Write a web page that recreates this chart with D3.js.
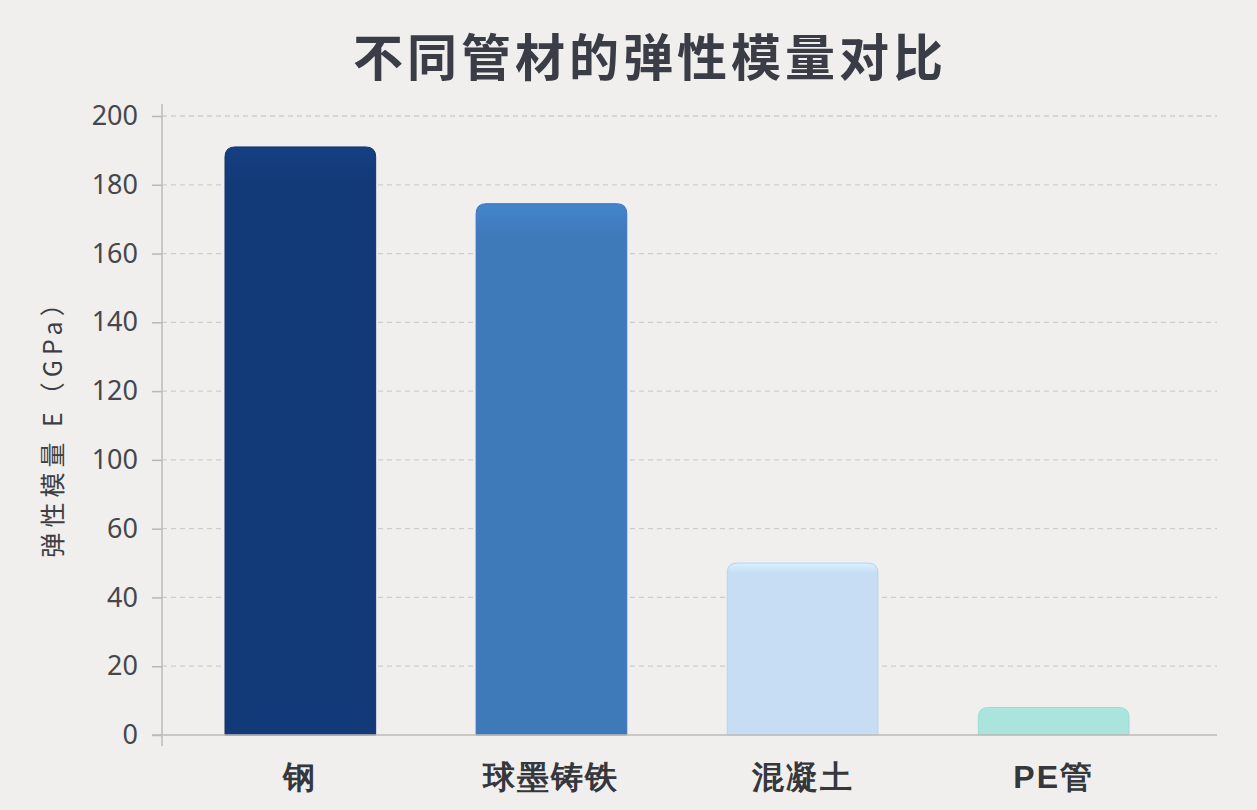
<!DOCTYPE html>
<html>
<head>
<meta charset="utf-8">
<script src="https://cdn.jsdelivr.net/npm/d3@7"></script>
<style>
  html, body { margin: 0; padding: 0; background: #f1efed; }
  svg { display: block; font-family: "Noto Sans CJK SC", "Noto Sans", sans-serif; }
</style>
</head>
<body>
<svg id="chart" width="1257" height="810"></svg>
<script>
// data
const categories = ['钢', '球墨铸铁', '混凝土', 'PE管'];
const modulus = [191, 174.5, 50, 8];
// tick labels as printed on the chart (evenly spaced, no 80)
const tickValues = [0, 20, 40, 60, 100, 120, 140, 160, 180, 200];
const barColors = ['#133a78', '#3e7aba', '#c6ddf4', '#aae4dc'];
const barEdges = ['#0f3268', '#3a74c8', '#b6d2f0', '#9adcd2'];

const svg = d3.select('#chart');
const margin = {top: 116, bottom: 75, left: 162, right: 40};
const yBottom = 810 - margin.bottom;

// x: band scale for the materials
const x = d3.scaleBand()
  .domain(categories)
  .range([225, 1129])
  .paddingInner(0.4)
  .paddingOuter(0);

// y: piecewise linear scale so the printed labels sit evenly
const step = (yBottom - margin.top) / (tickValues.length - 1);
const y = d3.scaleLinear()
  .domain(tickValues)
  .range(tickValues.map((_, i) => yBottom - i * step));

// title
svg.append('text')
  .attr('x', 650)
  .attr('y', 76)
  .attr('text-anchor', 'middle')
  .attr('font-size', 50)
  .attr('font-weight', 'bold')
  .attr('letter-spacing', 4)
  .attr('fill', '#3a3d45')
  .text('不同管材的弹性模量对比');

// gridlines
svg.append('g')
  .selectAll('line')
  .data(tickValues.filter(v => v > 0))
  .join('line')
  .attr('x1', margin.left)
  .attr('x2', 1217)
  .attr('y1', d => y(d))
  .attr('y2', d => y(d))
  .attr('stroke', '#cfcdcb')
  .attr('stroke-width', 1.3)
  .attr('stroke-dasharray', '5,4');

// gradients for bars
const defs = svg.append('defs');
barColors.forEach((c, i) => {
  const g = defs.append('linearGradient')
    .attr('id', 'grad' + i)
    .attr('x1', 0).attr('y1', 0).attr('x2', 0).attr('y2', 1);
  g.append('stop').attr('offset', '0%').attr('stop-color', d3.color(c).brighter(0.25));
  g.append('stop').attr('offset', '6%').attr('stop-color', c);
  g.append('stop').attr('offset', '100%').attr('stop-color', c);
});

// bars: rounded top corners, square bottom
const r = 10;
function barPath(d, i) {
  const x0 = x(categories[i]);
  const w = x.bandwidth();
  const top = y(d);
  const h = yBottom - top;
  const rr = Math.min(r, h / 2);
  return `M${x0},${yBottom} V${top + rr} Q${x0},${top} ${x0 + rr},${top} H${x0 + w - rr} Q${x0 + w},${top} ${x0 + w},${top + rr} V${yBottom} Z`;
}

svg.append('g')
  .selectAll('path')
  .data(modulus)
  .join('path')
  .attr('d', (d, i) => barPath(d, i))
  .attr('fill', (d, i) => `url(#grad${i})`)
  .attr('stroke', (d, i) => barEdges[i])
  .attr('stroke-width', 1);

// y axis
const yAxis = svg.append('g')
  .attr('transform', `translate(${margin.left},0)`)
  .call(d3.axisLeft(y).tickValues(tickValues).tickSize(10).tickPadding(14).tickFormat(d3.format('d')));
yAxis.select('.domain').remove();
yAxis.selectAll('.tick line').attr('stroke', '#b9b7b5').attr('stroke-width', 1.5);
yAxis.selectAll('.tick text')
  .attr('font-size', 27)
  .attr('fill', '#45474c')
  .attr('font-family', '"Noto Sans", "DejaVu Sans", sans-serif');
yAxis.append('line')
  .attr('x1', 0).attr('x2', 0)
  .attr('y1', 104).attr('y2', 746)
  .attr('stroke', '#bdbbb9').attr('stroke-width', 1.5);

// x axis
const xAxis = svg.append('g')
  .attr('transform', `translate(0,${yBottom})`)
  .call(d3.axisBottom(x).tickSize(0).tickPadding(34));
xAxis.select('.domain').remove();
xAxis.append('line')
  .attr('x1', 152).attr('x2', 1217)
  .attr('stroke', '#bdbbb9').attr('stroke-width', 1.5);
xAxis.selectAll('.tick text')
  .attr('font-size', 32)
  .attr('font-weight', 'bold')
  .attr('fill', '#35373c')
  .attr('letter-spacing', 2)
  .attr('dy', '0.6em');

// y axis title
svg.append('text')
  .attr('transform', 'translate(62,422) rotate(-90)')
  .attr('text-anchor', 'middle')
  .attr('font-size', 25)
  .attr('letter-spacing', 5)
  .attr('fill', '#3c3e43')
  .text('弹性模量 E（GPa）');
</script>
</body>
</html>
